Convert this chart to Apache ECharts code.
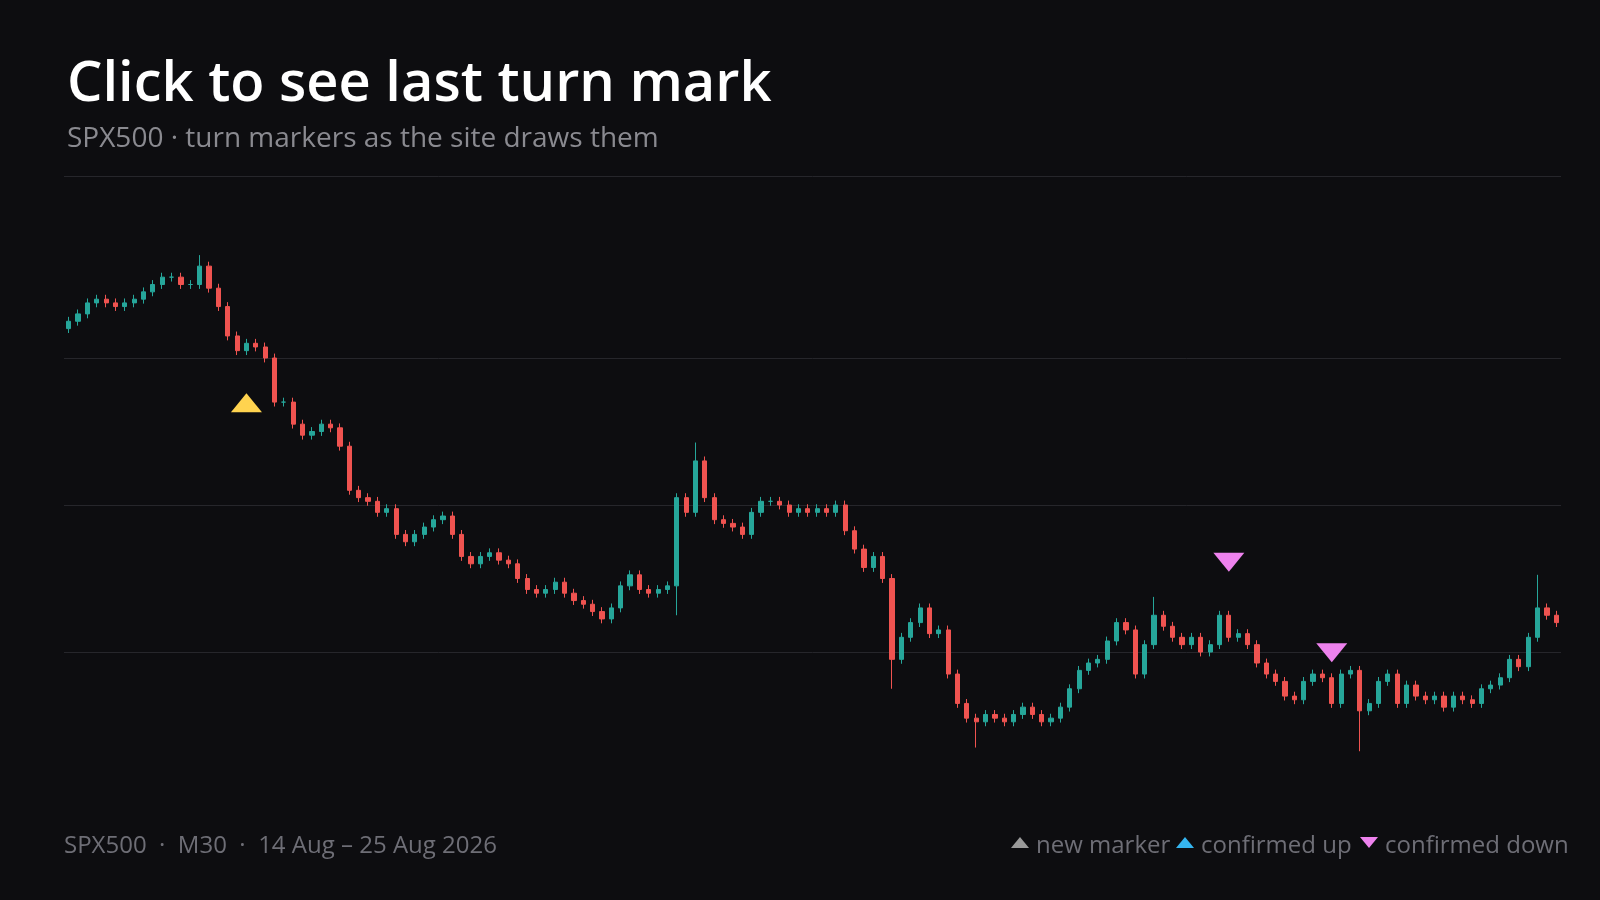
<!DOCTYPE html>
<html><head><meta charset="utf-8">
<script src="https://cdn.jsdelivr.net/npm/echarts@6/dist/echarts.min.js"></script>
<style>html,body{margin:0;background:#0d0d10}#c{width:1600px;height:900px}</style>
</head><body><div id="c"></div>
<script>
const closes = [6445,6446,6447.5,6448,6447.5,6447,6447.5,6448,6449,6450,6451,6451,6450,6450,6452.5,6449.5,6447,6443,6441,6442,
6441.5,6440,6434,6434,6431,6429.5,6430,6431,6430.5,6428,6422,6421,6420.5,6419,6419.5,6416,6415,6416,6417,6418,
6418.5,6416,6413,6412,6413,6413.5,6412.5,6412,6410,6408.5,6408,6408.5,6409.5,6408,6407,6406.5,6405.5,6404.5,6406,6409,
6410.5,6408.5,6408,6408.5,6409,6421,6419,6426,6421,6418,6417.5,6417,6416,6419,6420.5,6420.5,6420,6419,6419.5,6419,
6419.5,6419,6420,6416.5,6414,6411.5,6413,6410,6399,6402,6404,6406,6402.5,6403,6397,6393,6391,6390.5,6391.5,6391,
6390.5,6391.5,6392.5,6391.5,6390.5,6391,6392.5,6395,6397.5,6398.5,6399,6401.5,6404,6403,6397,6401,6405,6403.5,6402,6401,
6402,6400,6401,6405,6402,6402.5,6401,6398.5,6397,6396,6394,6393.5,6396,6397,6396.5,6393,6397,6397.5,6392,6393,
6396,6397,6393,6395.5,6394,6393.5,6394,6392.5,6394,6393.5,6393,6395,6395.5,6396.5,6399,6398,6402,6406,6405,6404];
const firstOpen = 6444;
const highExt = {14:6454,65:6405,67:6428.5,88:6395,97:6387,116:6407.5,138:6386.5,157:6410.5};
const spikeHigh = [14,67,116,157];
const upMarks = [[19,6433.9]];
const downMarks = [[124,6412.2],[135,6399.9]];

const cats = closes.map((_,i)=>i);
const ohlc = closes.map((c,i)=>{
  const o = i===0?firstOpen:closes[i-1];
  let h = Math.max(o,c)+0.6, l = Math.min(o,c)-0.6;
  if (highExt[i]!==undefined){ if (spikeHigh.includes(i)) h=highExt[i]; else l=highExt[i]; }
  return [o,c,l,h];
});
const chart = echarts.init(document.getElementById('c'));
const ff = '"Open Sans","Noto Sans",sans-serif';
chart.setOption({
  backgroundColor:'#0d0d10',
  animation:false,
  title:{text:'Click to see last turn mark',subtext:'SPX500 · turn markers as the site draws them',left:62,top:52,itemGap:12,
    textStyle:{color:'#ffffff',fontSize:56,fontWeight:'600',fontFamily:ff},
    subtextStyle:{color:'#8a8a90',fontSize:28,fontFamily:ff}},
  grid:{left:64,right:39,top:211,bottom:101},
  xAxis:{type:'category',data:cats,show:false,boundaryGap:true},
  yAxis:{type:'value',min:6380,max:6460,interval:20,axisLabel:{show:false},axisLine:{show:false},axisTick:{show:false},
    splitLine:{show:true,showMinLine:false,showMaxLine:false,lineStyle:{color:'#26262b'}}},
  series:[
    {type:'candlestick',data:ohlc,barMaxWidth:6,itemStyle:{color:'#26a69a',color0:'#ef5350',borderColor:'#26a69a',borderColor0:'#ef5350'}},
    {type:'scatter',data:upMarks,symbol:'triangle',symbolSize:[31,19],itemStyle:{color:'#ffd34f',opacity:1}},
    {type:'scatter',data:downMarks,symbol:'triangle',symbolRotate:180,symbolSize:[31,19],itemStyle:{color:'#ee82ee',opacity:1}}
  ],
  graphic:[
    {type:'line',shape:{x1:64,y1:176.5,x2:1561,y2:176.5},style:{stroke:'#26262b',lineWidth:1}},
    {type:'text',x:64,y:834,style:{text:'SPX500  ·  M30  ·  14 Aug – 25 Aug 2026',fill:'#6e6e76',fontSize:24,fontFamily:ff}},
    {type:'polygon',shape:{points:[[1011,848],[1029,848],[1020,837]]},style:{fill:'#9a9a9a'}},
    {type:'text',x:1036,y:834,style:{text:'new marker',fill:'#6e6e76',fontSize:24,fontFamily:ff}},
    {type:'polygon',shape:{points:[[1176,848],[1194,848],[1185,837]]},style:{fill:'#35b5f0'}},
    {type:'text',x:1201,y:834,style:{text:'confirmed up',fill:'#6e6e76',fontSize:24,fontFamily:ff}},
    {type:'polygon',shape:{points:[[1360,837],[1378,837],[1369,848]]},style:{fill:'#ee82ee'}},
    {type:'text',x:1385,y:834,style:{text:'confirmed down',fill:'#6e6e76',fontSize:24,fontFamily:ff}}
  ]
});
</script></body></html>
